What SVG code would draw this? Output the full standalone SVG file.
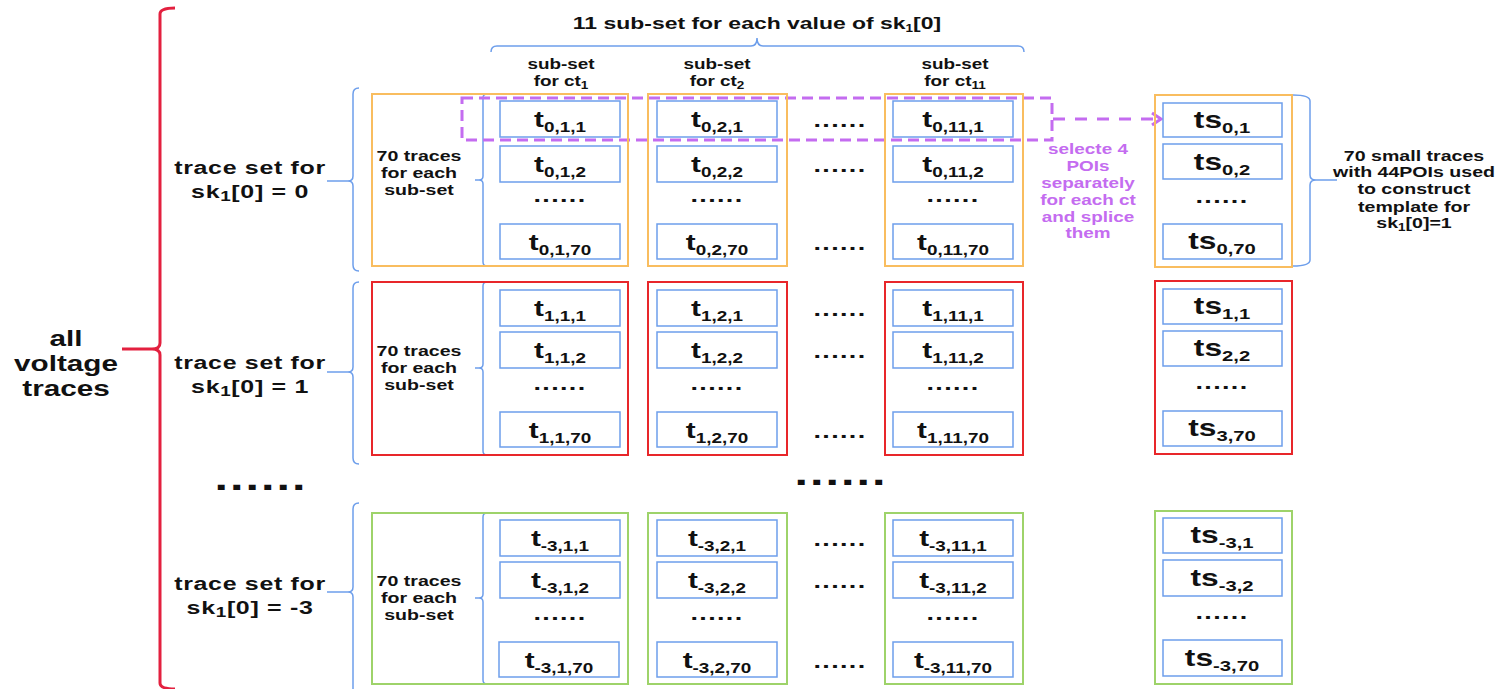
<svg xmlns="http://www.w3.org/2000/svg" width="1501" height="689" viewBox="0 0 1501 689">
<style>
.ob{fill:none;stroke:#f9bd5f;stroke-width:2}
.rb{fill:none;stroke:#e8262a;stroke-width:2}
.gb{fill:none;stroke:#9ed36a;stroke-width:2}
.ib{fill:#fff;stroke:#6d9eeb;stroke-width:1.5}
.br{fill:none;stroke:#6d9eeb;stroke-width:1.5}
.rbr{fill:none;stroke:#e3203f;stroke-width:3}
.pu{fill:none;stroke:#c46cf0;stroke-width:3}
text{font-family:"Liberation Sans",Arial,sans-serif;font-weight:bold;fill:#111;text-anchor:middle}
.lb{font-size:22px}
.lt{font-size:23.5px}
.s{font-size:14px}
.s2{font-size:15px}
.dt{font-size:20px;letter-spacing:1px}
.bd{font-size:36px;letter-spacing:1.5px}
.sm{font-size:14.5px}
.hd{font-size:14px}
.ts{font-size:18.5px;letter-spacing:0.5px}
.av{font-size:22px}
.ti{font-size:17px}
.pt{font-size:14px;fill:#c46cf0}
.sb{font-size:10px}
</style>

<g id="connectors">
<path class="rbr" d="M175 8 Q160 8 160 14 V343 Q160 349 152 349 H122 M152 349 Q160 349 160 355 V683 Q160 689 175 689"/>
<path class="br" d="M359 88 Q353 88 353 94 V176 Q353 181 348 181 H327 M348 181 Q353 181 353 186 V265 Q353 271 359 271"/>
<path class="br" d="M359 282 Q353 282 353 288 V367 Q353 372 348 372 H327 M348 372 Q353 372 353 377 V458 Q353 464 359 464"/>
<path class="br" d="M359 503 Q353 503 353 509 V587 Q353 592 348 592 H327 M348 592 Q353 592 353 597 V700"/>
<path class="br" d="M491 52 Q491 46 497 46 H751 Q757 46 757 38 Q757 46 763 46 H1018 Q1024 46 1024 52"/>
<path class="br" d="M1293 95 Q1310 95 1310 101 V175 Q1310 180 1316 180 H1337 M1316 180 Q1310 180 1310 185 V260 Q1310 266 1293 266"/>
<path class="br" stroke-width="1" d="M487 94 Q483 94 483 98 V176 Q483 180 479 180 H475 M479 180 Q483 180 483 184 V262 Q483 266 487 266"/>
<path class="br" stroke-width="1" d="M487 282 Q483 282 483 286 V364 Q483 368 479 368 H475 M479 368 Q483 368 483 372 V451 Q483 455 487 455"/>
<path class="br" stroke-width="1" d="M487 513 Q483 513 483 517 V594 Q483 598 479 598 H475 M479 598 Q483 598 483 602 V680 Q483 684 487 684"/>
<g id="poi-select">
<rect class="pu" x="462" y="98" width="590" height="42" stroke-dasharray="11 6"/>
<path class="pu" d="M1053 119 H1158" stroke-dasharray="12 10"/>
<polyline class="pu" points="1152,113 1161,119 1152,125"/>
</g>
</g>

<g id="labels">
<text class="ti" transform="translate(757,29) scale(1.35,1)">11 sub-set for each value of sk<tspan class="sb" dy="3">1</tspan><tspan dy="-3">[0]</tspan></text>
<text class="hd" transform="translate(561,69) scale(1.35,1)">sub-set</text>
<text class="hd" transform="translate(561,86) scale(1.35,1)">for ct<tspan class="sb" dy="3">1</tspan></text>
<text class="hd" transform="translate(717,69) scale(1.35,1)">sub-set</text>
<text class="hd" transform="translate(717,86) scale(1.35,1)">for ct<tspan class="sb" dy="3">2</tspan></text>
<text class="hd" transform="translate(955,69) scale(1.35,1)">sub-set</text>
<text class="hd" transform="translate(955,86) scale(1.35,1)">for ct<tspan class="sb" dy="3">11</tspan></text>
<text class="av" transform="translate(66,346) scale(1.35,1)">all</text>
<text class="av" transform="translate(66,371) scale(1.35,1)">voltage</text>
<text class="av" transform="translate(66,396) scale(1.35,1)">traces</text>
<text class="ts" transform="translate(250,174) scale(1.35,1)">trace set for</text>
<text class="ts" transform="translate(250,198) scale(1.35,1)">sk<tspan class="s" dy="3">1</tspan><tspan dy="-3">[0] = 0</tspan></text>
<text class="ts" transform="translate(250,369) scale(1.35,1)">trace set for</text>
<text class="ts" transform="translate(250,393) scale(1.35,1)">sk<tspan class="s" dy="3">1</tspan><tspan dy="-3">[0] = 1</tspan></text>
<text class="ts" transform="translate(250,590) scale(1.35,1)">trace set for</text>
<text class="ts" transform="translate(250,614) scale(1.35,1)">sk<tspan class="s" dy="3">1</tspan><tspan dy="-3">[0] = -3</tspan></text>
<text class="bd" transform="translate(261,490) scale(1.35,1)">......</text>
<text class="bd" transform="translate(841,485) scale(1.35,1)">......</text>
<text class="pt" transform="translate(1088,154) scale(1.35,1)">selecte 4</text>
<text class="pt" transform="translate(1088,171) scale(1.35,1)">POIs</text>
<text class="pt" transform="translate(1088,188) scale(1.35,1)">separately</text>
<text class="pt" transform="translate(1088,205) scale(1.35,1)">for each ct</text>
<text class="pt" transform="translate(1088,222) scale(1.35,1)">and splice</text>
<text class="pt" transform="translate(1088,238) scale(1.35,1)">them</text>
<text class="sm" transform="translate(1414,161) scale(1.35,1)">70 small traces</text>
<text class="sm" transform="translate(1414,177) scale(1.35,1)">with 44POIs used</text>
<text class="sm" transform="translate(1414,194) scale(1.35,1)">to construct</text>
<text class="sm" transform="translate(1414,212) scale(1.35,1)">template for</text>
<text class="sm" transform="translate(1414,228) scale(1.35,1)">sk<tspan class="sb" dy="3">1</tspan><tspan dy="-3">[0]=1</tspan></text>
</g>

<!-- Row sk=0 -->
<g id="set0-ct1">
<rect class="ob" x="372" y="94" width="256" height="172"/>
<text class="sm" transform="translate(419,161) scale(1.35,1)">70 traces</text>
<text class="sm" transform="translate(419,178) scale(1.35,1)">for each</text>
<text class="sm" transform="translate(419,195) scale(1.35,1)">sub-set</text>
<rect class="ib" x="500" y="101" width="120" height="36"/>
<text class="lb" transform="translate(560,127) scale(1.35,1)">t<tspan class="s" dy="5">0,1,1</tspan></text>
<rect class="ib" x="500" y="146" width="120" height="36"/>
<text class="lb" transform="translate(560,172) scale(1.35,1)">t<tspan class="s" dy="5">0,1,2</tspan></text>
<text class="dt" transform="translate(560,202) scale(1.35,1)">......</text>
<rect class="ib" x="500" y="224" width="120" height="35"/>
<text class="lb" transform="translate(560,250) scale(1.35,1)">t<tspan class="s" dy="5">0,1,70</tspan></text>
</g>
<g id="set0-ct2">
<rect class="ob" x="648" y="94" width="139" height="172"/>
<rect class="ib" x="657" y="101" width="120" height="36"/>
<text class="lb" transform="translate(717,127) scale(1.35,1)">t<tspan class="s" dy="5">0,2,1</tspan></text>
<rect class="ib" x="657" y="146" width="120" height="36"/>
<text class="lb" transform="translate(717,172) scale(1.35,1)">t<tspan class="s" dy="5">0,2,2</tspan></text>
<text class="dt" transform="translate(717,202) scale(1.35,1)">......</text>
<rect class="ib" x="657" y="224" width="120" height="35"/>
<text class="lb" transform="translate(717,250) scale(1.35,1)">t<tspan class="s" dy="5">0,2,70</tspan></text>
</g>
<g id="set0-dots">
<text class="dt" transform="translate(840,127) scale(1.35,1)">......</text>
<text class="dt" transform="translate(840,172) scale(1.35,1)">......</text>
<text class="dt" transform="translate(840,250) scale(1.35,1)">......</text>
</g>
<g id="set0-ct11">
<rect class="ob" x="885" y="94" width="138" height="172"/>
<rect class="ib" x="893" y="101" width="120" height="36"/>
<text class="lb" transform="translate(953,127) scale(1.35,1)">t<tspan class="s" dy="5">0,11,1</tspan></text>
<rect class="ib" x="893" y="146" width="120" height="36"/>
<text class="lb" transform="translate(953,172) scale(1.35,1)">t<tspan class="s" dy="5">0,11,2</tspan></text>
<text class="dt" transform="translate(953,202) scale(1.35,1)">......</text>
<rect class="ib" x="893" y="224" width="120" height="35"/>
<text class="lb" transform="translate(953,250) scale(1.35,1)">t<tspan class="s" dy="5">0,11,70</tspan></text>
</g>
<g id="set0-small">
<rect class="ob" x="1155" y="95" width="137" height="172"/>
<rect class="ib" x="1163" y="103" width="119" height="34"/>
<text class="lt" transform="translate(1222,128) scale(1.35,1)">ts<tspan class="s2" dy="5">0,1</tspan></text>
<rect class="ib" x="1163" y="144" width="119" height="35"/>
<text class="lt" transform="translate(1222,170) scale(1.35,1)">ts<tspan class="s2" dy="5">0,2</tspan></text>
<text class="dt" transform="translate(1222,203) scale(1.35,1)">......</text>
<rect class="ib" x="1163" y="224" width="119" height="35"/>
<text class="lt" transform="translate(1222,249) scale(1.35,1)">ts<tspan class="s2" dy="5">0,70</tspan></text>
</g>

<!-- Row sk=1 -->
<g id="set1-ct1">
<rect class="rb" x="372" y="282" width="256" height="173"/>
<text class="sm" transform="translate(419,356) scale(1.35,1)">70 traces</text>
<text class="sm" transform="translate(419,373) scale(1.35,1)">for each</text>
<text class="sm" transform="translate(419,390) scale(1.35,1)">sub-set</text>
<rect class="ib" x="500" y="290" width="120" height="36"/>
<text class="lb" transform="translate(560,316) scale(1.35,1)">t<tspan class="s" dy="5">1,1,1</tspan></text>
<rect class="ib" x="500" y="332" width="120" height="36"/>
<text class="lb" transform="translate(560,358) scale(1.35,1)">t<tspan class="s" dy="5">1,1,2</tspan></text>
<text class="dt" transform="translate(560,390) scale(1.35,1)">......</text>
<rect class="ib" x="500" y="412" width="120" height="35"/>
<text class="lb" transform="translate(560,438) scale(1.35,1)">t<tspan class="s" dy="5">1,1,70</tspan></text>
</g>
<g id="set1-ct2">
<rect class="rb" x="648" y="282" width="139" height="173"/>
<rect class="ib" x="657" y="290" width="120" height="36"/>
<text class="lb" transform="translate(717,316) scale(1.35,1)">t<tspan class="s" dy="5">1,2,1</tspan></text>
<rect class="ib" x="657" y="332" width="120" height="36"/>
<text class="lb" transform="translate(717,358) scale(1.35,1)">t<tspan class="s" dy="5">1,2,2</tspan></text>
<text class="dt" transform="translate(717,390) scale(1.35,1)">......</text>
<rect class="ib" x="657" y="412" width="120" height="35"/>
<text class="lb" transform="translate(717,438) scale(1.35,1)">t<tspan class="s" dy="5">1,2,70</tspan></text>
</g>
<g id="set1-dots">
<text class="dt" transform="translate(840,316) scale(1.35,1)">......</text>
<text class="dt" transform="translate(840,358) scale(1.35,1)">......</text>
<text class="dt" transform="translate(840,438) scale(1.35,1)">......</text>
</g>
<g id="set1-ct11">
<rect class="rb" x="885" y="282" width="138" height="173"/>
<rect class="ib" x="893" y="290" width="120" height="36"/>
<text class="lb" transform="translate(953,316) scale(1.35,1)">t<tspan class="s" dy="5">1,11,1</tspan></text>
<rect class="ib" x="893" y="332" width="120" height="36"/>
<text class="lb" transform="translate(953,358) scale(1.35,1)">t<tspan class="s" dy="5">1,11,2</tspan></text>
<text class="dt" transform="translate(953,390) scale(1.35,1)">......</text>
<rect class="ib" x="893" y="412" width="120" height="35"/>
<text class="lb" transform="translate(953,438) scale(1.35,1)">t<tspan class="s" dy="5">1,11,70</tspan></text>
</g>
<g id="set1-small">
<rect class="rb" x="1155" y="281" width="137" height="173"/>
<rect class="ib" x="1163" y="289" width="119" height="35"/>
<text class="lt" transform="translate(1222,314) scale(1.35,1)">ts<tspan class="s2" dy="5">1,1</tspan></text>
<rect class="ib" x="1163" y="331" width="119" height="35"/>
<text class="lt" transform="translate(1222,356) scale(1.35,1)">ts<tspan class="s2" dy="5">2,2</tspan></text>
<text class="dt" transform="translate(1222,389) scale(1.35,1)">......</text>
<rect class="ib" x="1163" y="411" width="119" height="35"/>
<text class="lt" transform="translate(1222,436) scale(1.35,1)">ts<tspan class="s2" dy="5">3,70</tspan></text>
</g>

<!-- Row sk=-3 -->
<g id="setm3-ct1">
<rect class="gb" x="372" y="513" width="256" height="171"/>
<text class="sm" transform="translate(419,586) scale(1.35,1)">70 traces</text>
<text class="sm" transform="translate(419,603) scale(1.35,1)">for each</text>
<text class="sm" transform="translate(419,620) scale(1.35,1)">sub-set</text>
<rect class="ib" x="500" y="520" width="120" height="36"/>
<text class="lb" transform="translate(560,546) scale(1.35,1)">t<tspan class="s" dy="5">-3,1,1</tspan></text>
<rect class="ib" x="500" y="562" width="120" height="36"/>
<text class="lb" transform="translate(560,588) scale(1.35,1)">t<tspan class="s" dy="5">-3,1,2</tspan></text>
<text class="dt" transform="translate(560,620) scale(1.35,1)">......</text>
<rect class="ib" x="499" y="642" width="120" height="35"/>
<text class="lb" transform="translate(559,668) scale(1.35,1)">t<tspan class="s" dy="5">-3,1,70</tspan></text>
</g>
<g id="setm3-ct2">
<rect class="gb" x="648" y="513" width="139" height="171"/>
<rect class="ib" x="657" y="520" width="120" height="36"/>
<text class="lb" transform="translate(717,546) scale(1.35,1)">t<tspan class="s" dy="5">-3,2,1</tspan></text>
<rect class="ib" x="657" y="562" width="120" height="36"/>
<text class="lb" transform="translate(717,588) scale(1.35,1)">t<tspan class="s" dy="5">-3,2,2</tspan></text>
<text class="dt" transform="translate(717,620) scale(1.35,1)">......</text>
<rect class="ib" x="657" y="642" width="120" height="35"/>
<text class="lb" transform="translate(717,668) scale(1.35,1)">t<tspan class="s" dy="5">-3,2,70</tspan></text>
</g>
<g id="setm3-dots">
<text class="dt" transform="translate(840,546) scale(1.35,1)">......</text>
<text class="dt" transform="translate(840,588) scale(1.35,1)">......</text>
<text class="dt" transform="translate(840,668) scale(1.35,1)">......</text>
</g>
<g id="setm3-ct11">
<rect class="gb" x="885" y="513" width="138" height="171"/>
<rect class="ib" x="893" y="520" width="120" height="36"/>
<text class="lb" transform="translate(953,546) scale(1.35,1)">t<tspan class="s" dy="5">-3,11,1</tspan></text>
<rect class="ib" x="893" y="562" width="120" height="36"/>
<text class="lb" transform="translate(953,588) scale(1.35,1)">t<tspan class="s" dy="5">-3,11,2</tspan></text>
<text class="dt" transform="translate(953,620) scale(1.35,1)">......</text>
<rect class="ib" x="893" y="642" width="120" height="35"/>
<text class="lb" transform="translate(953,668) scale(1.35,1)">t<tspan class="s" dy="5">-3,11,70</tspan></text>
</g>
<g id="setm3-small">
<rect class="gb" x="1155" y="511" width="137" height="173"/>
<rect class="ib" x="1163" y="518" width="119" height="35"/>
<text class="lt" transform="translate(1222,543) scale(1.35,1)">ts<tspan class="s2" dy="5">-3,1</tspan></text>
<rect class="ib" x="1163" y="560" width="119" height="36"/>
<text class="lt" transform="translate(1222,586) scale(1.35,1)">ts<tspan class="s2" dy="5">-3,2</tspan></text>
<text class="dt" transform="translate(1222,619) scale(1.35,1)">......</text>
<rect class="ib" x="1163" y="640" width="119" height="36"/>
<text class="lt" transform="translate(1222,666) scale(1.35,1)">ts<tspan class="s2" dy="5">-3,70</tspan></text>
</g>
</svg>
